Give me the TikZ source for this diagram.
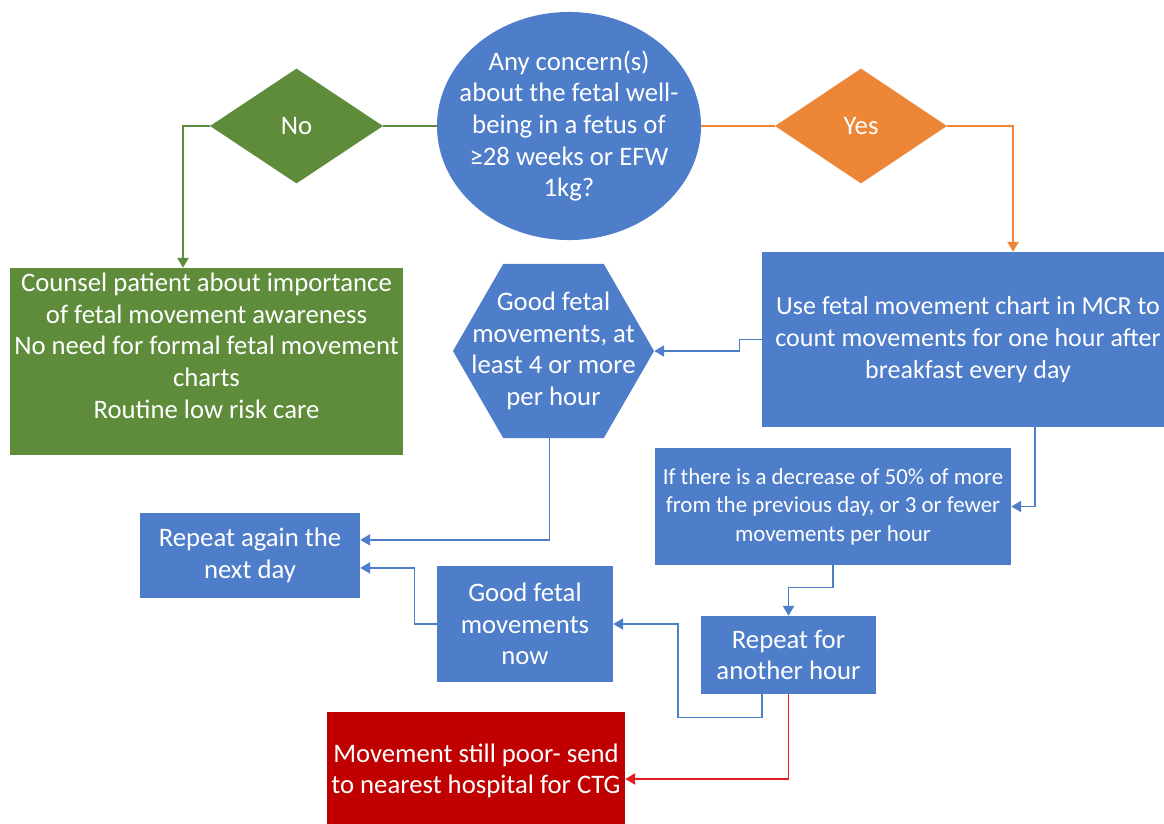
\documentclass[tikz,border=0pt]{standalone}
\usepackage{fontspec}
\setmainfont{Carlito}
\usetikzlibrary{shapes.geometric,arrows.meta}
\definecolor{flowblue}{HTML}{4E7DC9}
\definecolor{flowgreen}{HTML}{5E8C3B}
\definecolor{floworange}{HTML}{ED8637}
\definecolor{flowred}{HTML}{C00000}
\definecolor{linered}{HTML}{E01E1E}

\begin{document}
\begin{tikzpicture}[x=0.025cm,y=-0.025cm,
  box/.style={fill=flowblue, text=white, align=center, inner sep=0pt, font=\fontsize{19}{22.5}\selectfont},
  link/.style={line width=1pt, flowblue, -{Triangle[width=8pt,length=7pt]}}]
\useasboundingbox (0,0) rectangle (1164,823);

% Question
\node[box, ellipse, inner sep=-1cm, minimum width=6.6cm, minimum height=5.7cm] (q) at (569,126)
  {Any concern(s)\\about the fetal well-\\being in a fetus of\\≥28 weeks or EFW\\1kg?};

% Answers
\node[box, diamond, fill=flowgreen, minimum width=4.325cm, minimum height=2.875cm] (no) at (296.5,126) {No};
\node[box, diamond, fill=floworange, minimum width=4.3cm, minimum height=2.875cm] (yes) at (861,126) {Yes};

% No branch
\node[box, fill=flowgreen, minimum width=9.825cm, minimum height=4.675cm] (counsel) at (206.5,361.5)
  {Counsel patient about importance\\of fetal movement awareness\\No need for formal fetal movement\\charts\\Routine low risk care\\\mbox{}};

% Yes branch
\node[box, minimum width=10.3cm, minimum height=4.375cm, font=\fontsize{18.5}{22.5}\selectfont] (chart) at (968,339.5)
  {Use fetal movement chart in MCR to\\count movements for one hour after\\breakfast every day};
\node[box, regular polygon, regular polygon sides=6, inner sep=-1cm, minimum size=5.025cm] (good) at (553.5,351)
  {Good fetal\\movements, at\\least 4 or more\\per hour};
\node[box, minimum width=8.9cm, minimum height=2.925cm, font=\fontsize{16.3}{20.3}\selectfont] (drop) at (833,506.5)
  {If there is a decrease of 50\% of more\\from the previous day, or 3 or fewer\\movements per hour};
\node[box, minimum width=5.5cm, minimum height=2.125cm] (again) at (250,555.5) {Repeat again the\\next day};
\node[box, minimum width=4.4cm, minimum height=2.9cm] (now) at (525,624) {Good fetal\\movements\\now};
\node[box, minimum width=4.375cm, minimum height=1.95cm] (hour) at (788.5,655) {Repeat for\\another hour};
\node[box, fill=flowred, minimum width=7.45cm, minimum height=2.95cm] (ctg) at (476,771)
  {Movement still poor- send\\to nearest hospital for CTG};

% Arrows
\draw[line width=1pt, flowgreen] (no.east) -- (q.west);
\draw[link, flowgreen] (no.west) -| ([xshift=-0.5875cm]counsel.north);
\draw[line width=1pt, floworange] (q.east) -- (yes.west);
\draw[link, floworange] (yes.east) -| ([xshift=1.125cm]chart.north);
\draw[link] (chart.west) -- ++(-0.55cm,0) |- (good.east);
\draw[link] ([xshift=1.675cm]chart.south) |- (drop.east);
\draw[link] (drop.south) -- ++(0,-0.55cm) -| (hour.north);
\draw[link] ([xshift=-0.1cm]good.south) |- ([yshift=0.39cm]again.east);
\draw[link] (now.west) -- ++(-0.55cm,0) |- ([yshift=-0.31cm]again.east);
\draw[link] ([xshift=-0.66cm]hour.south) |- ++(-2.1cm,-0.575cm) |- (now.east);
\draw[link, linered] (hour.south) |- ([yshift=-0.2cm]ctg.east);
\end{tikzpicture}
\end{document}
